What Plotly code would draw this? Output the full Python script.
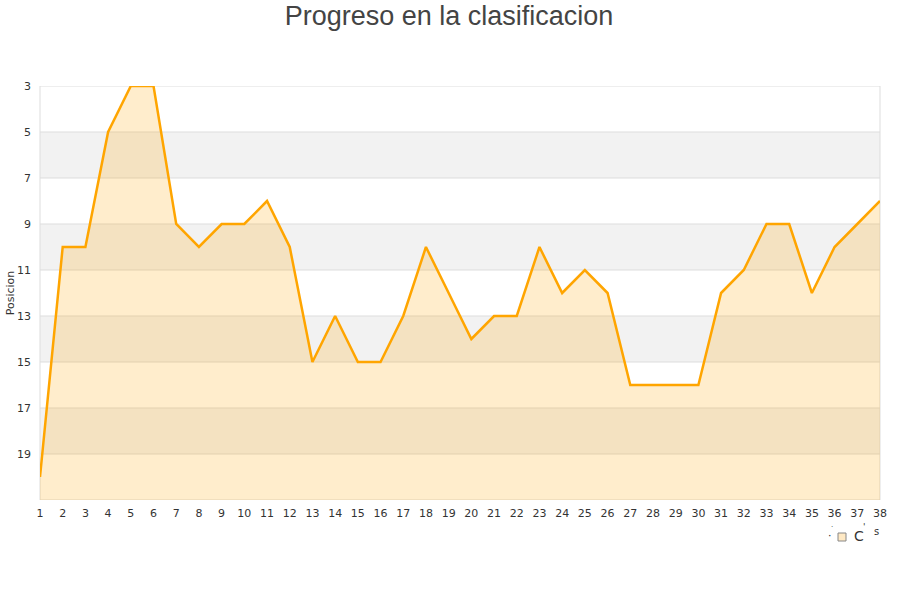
import plotly.graph_objects as go

jornadas = list(range(1, 39))
posiciones = [20, 10, 10, 5, 3, 3, 9, 10, 9, 9, 8, 10, 15, 13, 15, 15, 13, 10, 12, 14,
              13, 13, 10, 12, 11, 12, 16, 16, 16, 16, 12, 11, 9, 9, 12, 10, 9, 8]
y_ticks = [3, 5, 7, 9, 11, 13, 15, 17, 19]
grey_bands = [(5, 7), (9, 11), (13, 15), (17, 19)]
y_min, y_max = 3, 21

W, H = 900, 600
L, R, T, B = 40, 20, 86, 100

def px(x, y):
    # page pixel -> paper coords
    return (x - L) / (W - L - R), (H - B - y) / (H - T - B)

fig = go.Figure()
fig.add_trace(go.Scatter(x=jornadas, y=[y_max] * len(jornadas), mode="lines",
                         line=dict(width=0, color="rgba(0,0,0,0)"), showlegend=False,
                         hoverinfo="skip"))
fig.add_trace(go.Scatter(x=jornadas, y=posiciones, mode="lines", fill="tonexty",
                         fillcolor="rgba(255,165,0,0.2)",
                         line=dict(color="#FFA500", width=2.5), showlegend=False))

shapes = []
for a, b in grey_bands:
    shapes.append(dict(type="rect", xref="paper", yref="y", x0=0, x1=1, y0=a, y1=b,
                       fillcolor="#F2F2F2", line=dict(width=0), layer="below"))
for v in y_ticks + [y_max]:
    shapes.append(dict(type="line", xref="paper", yref="y", x0=0, x1=1, y0=v, y1=v,
                       line=dict(color="#DDDDDD", width=1), layer="below"))
for xv in (0, 1):
    shapes.append(dict(type="line", xref="paper", yref="paper", x0=xv, x1=xv, y0=0, y1=1,
                       line=dict(color="#DDDDDD", width=1), layer="below"))
# legend-like square
sx0, sy0 = px(838, 533)
sx1, sy1 = px(846, 541)
shapes.append(dict(type="rect", xref="paper", yref="paper", x0=sx0, x1=sx1, y0=sy1, y1=sy0,
                   fillcolor="#FFE9C4", line=dict(color="#888888", width=1)))

annotations = []
for (tx, ty, t, s) in [(830, 535, "·", 11), (832, 527, "·", 7), (859, 536, "C", 14),
                       (864, 527, "'", 9), (876, 531, "s", 10)]:
    ax, ay = px(tx, ty)
    annotations.append(dict(xref="paper", yref="paper", x=ax, y=ay, text=t, showarrow=False,
                            font=dict(family="DejaVu Sans", size=s, color="#333333"),
                            xanchor="center", yanchor="middle"))

fig.update_layout(
    width=W, height=H,
    margin=dict(l=L, r=R, t=T, b=B),
    paper_bgcolor="white", plot_bgcolor="white",
    title=dict(text="Progreso en la clasificacion", x=449 / W, xanchor="center",
               y=1 - 16 / H, yanchor="middle",
               font=dict(family="Liberation Sans", size=27, color="#444444")),
    shapes=shapes, annotations=annotations,
    showlegend=False,
    xaxis=dict(range=[1, 38], tickvals=jornadas, ticktext=[str(j) for j in jornadas],
               showgrid=False, zeroline=False, showline=False, ticks="",
               ticklabelstandoff=5, automargin=False,
               tickfont=dict(family="DejaVu Sans", size=11, color="#333333")),
    yaxis=dict(range=[y_max, y_min], tickvals=y_ticks, showgrid=False, zeroline=False,
               showline=False, ticks="", ticklabelstandoff=8, automargin=False,
               title=dict(text="Posicion", standoff=0,
                          font=dict(family="DejaVu Sans", size=11, color="#333333")),
               tickfont=dict(family="DejaVu Sans", size=11, color="#333333")),
)

fig.write_html("out.html", config={"displayModeBar": False},
               post_script="document.body.style.margin='0';")
